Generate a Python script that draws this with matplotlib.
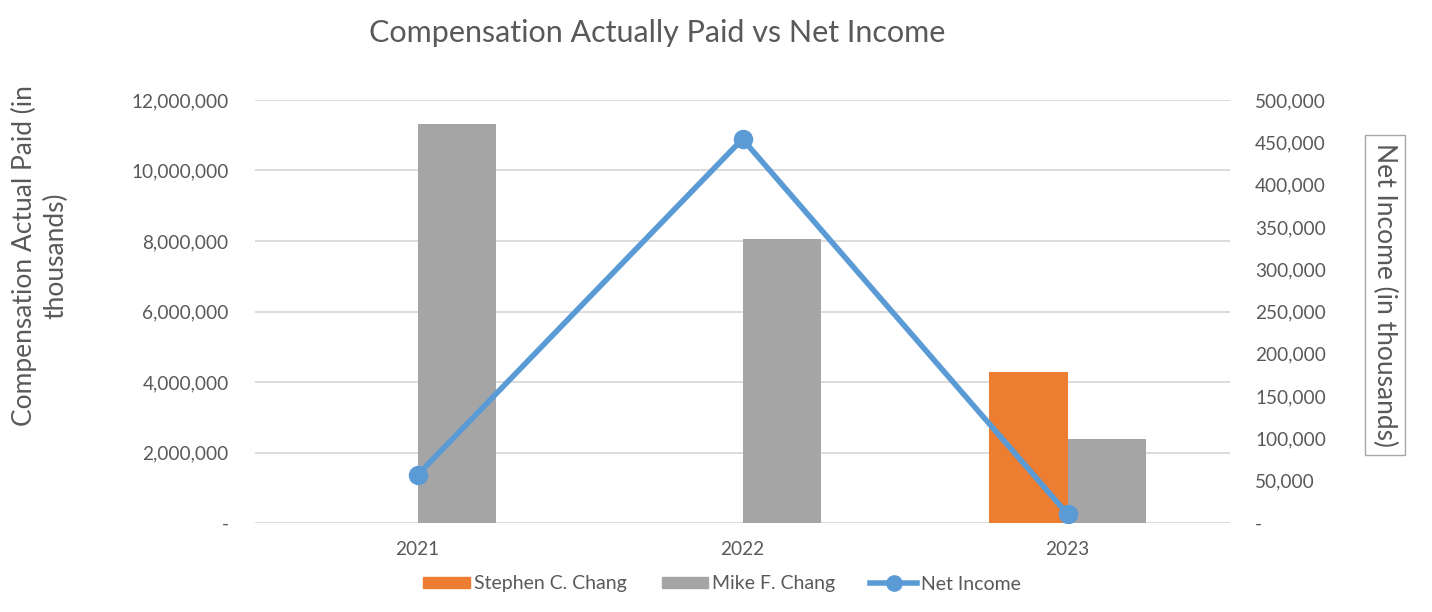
import matplotlib
matplotlib.use("Agg")
import matplotlib.pyplot as plt
import numpy as np
from matplotlib.ticker import FuncFormatter, MultipleLocator
from matplotlib.lines import Line2D
from matplotlib.patches import Patch

years = ["2021", "2022", "2023"]
stephen = [0, 0, 4_280_000]
mike = [11_320_000, 8_060_000, 2_380_000]
net_income = [56_700, 453_900, 10_600]

TXT = "#595959"
ORANGE = "#ED7D31"
GRAY = "#A5A5A5"
BLUE = "#5B9BD5"
GRID = "#D9D9D9"

plt.rcParams['font.family'] = ['Lato', 'DejaVu Sans']

fig = plt.figure(figsize=(14.32, 6.12), dpi=100)
ax = fig.add_axes([255/1432, 1-523/612, 975/1432, 423/612])
ax2 = ax.twinx()

x = np.arange(len(years))
w = 0.24
ax.bar(x - w/2, stephen, w, color=ORANGE, zorder=2)
ax.bar(x + w/2, mike, w, color=GRAY, zorder=2)
ax.set_xlim(-0.5, 2.5)
ax.set_ylim(0, 12_000_000)
ax.yaxis.set_major_locator(MultipleLocator(2_000_000))
ax.grid(axis='y', color=GRID, linewidth=1.3, zorder=0)
ax.set_axisbelow(True)

ax2.plot(x, net_income, color=BLUE, linewidth=4, marker='o', markersize=13, zorder=3)
ax2.set_ylim(0, 500_000)
ax2.yaxis.set_major_locator(MultipleLocator(50_000))

def fmt(v, pos):
    return "-" if v == 0 else f"{int(v):,}"

for a in (ax, ax2):
    a.yaxis.set_major_formatter(FuncFormatter(fmt))
    for s in a.spines.values():
        s.set_visible(False)
    a.tick_params(axis='both', length=0, colors=TXT, labelsize=13.7)

ax.set_xticks(x)
ax.set_xticklabels(years)
ax.tick_params(axis='x', pad=13)
ax.tick_params(axis='y', pad=19)
ax2.tick_params(axis='y', pad=18)

fig.text(657/1432, 1-33/612, "Compensation Actually Paid vs Net Income", ha='center', va='center',
         fontsize=22, color=TXT)
fig.text(40/1432, 1-256/612, "Compensation Actual Paid (in\nthousands)", rotation=90, ha='center',
         va='center', fontsize=19, color=TXT, linespacing=1.3, multialignment='center')
fig.text(1385/1432, 1-295/612, "Net Income (in thousands)", rotation=-90, ha='center', va='center',
         fontsize=19, color=TXT,
         bbox=dict(boxstyle='square,pad=0.3', facecolor='white', edgecolor='#A6A6A6', linewidth=1))

handles = [Patch(color=ORANGE, label="Stephen C. Chang"),
           Patch(color=GRAY, label="Mike F. Chang"),
           Line2D([0], [0], color=BLUE, linewidth=4, marker='o', markersize=11, label="Net Income")]
fig.legend(handles=handles, loc='center', bbox_to_anchor=(722/1432, 1-584/612), ncol=3, frameon=False,
           fontsize=14, labelcolor=TXT, handlelength=2.4, handleheight=0.55, handletextpad=0.2,
           columnspacing=1.8)

fig.savefig("out.png", dpi=100, facecolor='white')
